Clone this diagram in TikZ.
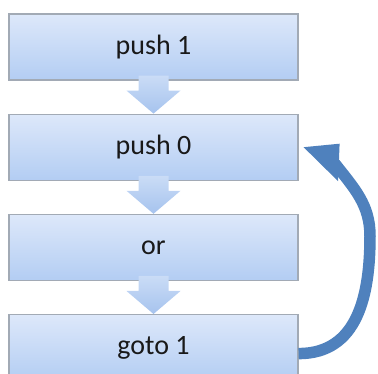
\documentclass[tikz,border=0pt]{standalone}
\usepackage{fontspec}
\setmainfont{Carlito}
\usetikzlibrary{positioning, shadows}

\definecolor{boxtop}{HTML}{DDE8FA}
\definecolor{boxbot}{HTML}{B3CDF3}
\definecolor{boxline}{HTML}{A2AAB5}
\definecolor{flowtop}{HTML}{CADCF6}
\definecolor{flowbot}{HTML}{A6C3EE}
\definecolor{loopblue}{HTML}{4F81BD}

\begin{document}
\begin{tikzpicture}[x=1pt, y=1pt,
    instr/.style={draw=boxline, line width=1.2pt, top color=boxtop, bottom color=boxbot,
      minimum width=289pt, minimum height=66pt, inner sep=0pt,
      font=\fontsize{28}{32}\selectfont, text=black!90,
      drop shadow={shadow xshift=0.8pt, shadow yshift=-1pt, fill=black, opacity=0.25}},
    flow/.style={top color=flowtop, bottom color=flowbot, draw=none}]
    \useasboundingbox (0,0) rectangle (378,374);
    \clip (0,0) rectangle (378,374);

    % The instruction boxes
    \node[instr] (push1) at (153.5,327) {push 1};
    \node[instr, below=33pt of push1] (push0) {push 0};
    \node[instr, below=33pt of push0] (or) {or};
    \node[instr, below=33pt of or] (goto) {goto 1};

    % Block arrows between the boxes
    \foreach \a/\b in {push1/push0, push0/or, or/goto} {
        \path[flow] ([xshift=-15pt, yshift=5pt]\a.south) -- ([xshift=-15pt, yshift=-10pt]\a.south)
            -- ([xshift=-27pt, yshift=-10pt]\a.south) -- (\b.north)
            -- ([xshift=27pt, yshift=-10pt]\a.south) -- ([xshift=15pt, yshift=-10pt]\a.south)
            -- ([xshift=15pt, yshift=5pt]\a.south) -- cycle;
    }

    % Jump back from goto to push 0
    \coordinate (turn) at (370,138);
    \coordinate (headbase) at ([shift={(36,-16)}]push0.east);
    \draw[loopblue, line width=11.5pt]
        ([yshift=-6pt]goto.east) to[out=0, in=-90, looseness=1.1] (turn)
        to[out=90, in=-52] (headbase);
    \fill[loopblue] ([xshift=5pt]push0.east) -- ([shift={(41,3.5)}]push0.east)
        -- ([shift={(39.5,-34)}]push0.east) -- cycle;
\end{tikzpicture}
\end{document}
